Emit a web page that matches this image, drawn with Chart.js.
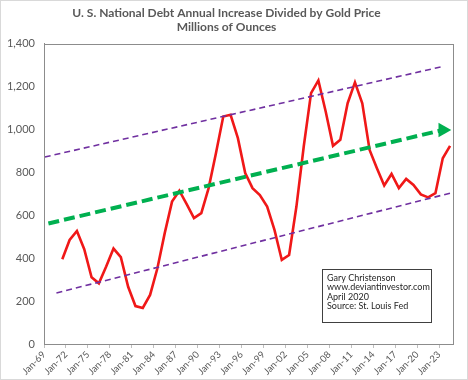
<!DOCTYPE html>
<html>
<head>
<meta charset="utf-8">
<script src="https://cdn.jsdelivr.net/npm/chart.js@4.4.0/dist/chart.umd.min.js"></script>
<style>
html,body{margin:0;padding:0;background:#fff;}
#wrap{width:468px;height:380px;position:relative;}
canvas{display:block;}
</style>
</head>
<body>
<div id="wrap"><canvas id="c" width="468" height="380"></canvas></div>
<script>
// ---- data ----
const years = [1971,1972,1973,1974,1975,1976,1977,1978,1979,1980,1981,1982,1983,1984,1985,1986,1987,1988,1989,1990,
  1991,1992,1993,1994,1995,1996,1997,1998,1999,2000,2001,2002,2003,2004,2005,2006,2007,2008,2009,2010,
  2011,2012,2013,2014,2015,2016,2017,2018,2019,2020,2021,2022,2023,2024];
const ounces = [395,485,527,442,311,283,361,445,405,267,177,168,229,353,517,664,715,652,587,610,
  727,890,1061,1069,960,797,727,695,641,532,392,415,641,921,1170,1229,1084,924,952,1123,
  1220,1123,905,820,739,793,727,770,742,698,684,703,866,924];
const upperChannel = [{x:1969.1,y:872},{x:2023.2,y:1292}];
const lowerChannel = [{x:1970.7,y:238},{x:2024.8,y:706}];
const trendArrow = [{x:1969.6,y:562},{x:2023.5,y:998}];
const xTickYears = [1969,1972,1975,1978,1981,1984,1987,1990,1993,1996,1999,2002,2005,2008,2011,2014,2017,2020,2023];
const yTicks = [0,200,400,600,800,1000,1200,1400];
const titleLines = ['U. S. National Debt Annual Increase Divided by Gold Price','Millions of Ounces'];
const noteLines = ['Gary Christenson','www.deviantinvestor.com','April 2020','Source: St. Louis Fed'];

const FONT = 'Lato, "Open Sans", sans-serif';
const debtPoints = years.map((yr,i)=>({x:yr+0.5,y:ounces[i]}));

const framePlugin = {
  id:'frame',
  afterDraw(chart){
    const {ctx, chartArea:a} = chart;
    ctx.save();
    // plot border
    ctx.strokeStyle = '#8c8c8c';
    ctx.lineWidth = 1;
    ctx.strokeRect(Math.round(a.left)+0.5, Math.round(a.top)+0.5, Math.round(a.right-a.left), Math.round(a.bottom-a.top));
    // outer border
    ctx.strokeStyle = '#d9d9d9';
    ctx.strokeRect(0.5,0.5,chart.width-1,chart.height-1);
    // note box
    const bx = Math.round(a.left) + 278, by = Math.round(a.top) + 225, bw = 109, bh = 53;
    ctx.fillStyle = '#fff';
    ctx.fillRect(bx,by,bw,bh);
    ctx.strokeStyle = '#404040';
    ctx.strokeRect(bx+0.5,by+0.5,bw,bh);
    ctx.fillStyle = '#262626';
    ctx.font = '9px ' + FONT;
    ctx.textBaseline = 'middle';
    ctx.textAlign = 'left';
    noteLines.forEach((t,i)=>ctx.fillText(t, bx+5, by+9 + i*9.3));
    ctx.restore();
  }
};

new Chart(document.getElementById('c'), {
  type:'line',
  data:{
    datasets:[
      {label:'Upper', data:upperChannel, borderColor:'#7030a0', borderWidth:1.6, borderDash:[6,4], pointRadius:0, fill:false},
      {label:'Lower', data:lowerChannel, borderColor:'#7030a0', borderWidth:1.6, borderDash:[6,4], pointRadius:0, fill:false},
      {label:'Trend', data:trendArrow, borderColor:'#00b050', backgroundColor:'#00b050', borderWidth:4, borderDash:[11,5],
        pointRadius:[0,8.5], pointStyle:'triangle', rotation:90, pointBorderWidth:0, pointHoverRadius:0, fill:false},
      {label:'Debt / Gold', data:debtPoints, borderColor:'#f01818', borderWidth:2.6, pointRadius:0, tension:0, fill:false}
    ]
  },
  options:{
    responsive:false,
    animation:false,
    events:[],
    layout:{padding:{left:0,right:15,top:0,bottom:0}},
    plugins:{
      legend:{display:false},
      tooltip:{enabled:false},
      title:{display:true, text:titleLines, color:'#595959',
        font:{family:FONT, size:12, weight:'bold', lineHeight:1.2},
        padding:{top:6,bottom:9}}
    },
    scales:{
      x:{type:'linear', min:1969, max:2024.9,
        afterBuildTicks(s){ s.ticks = xTickYears.map(v=>({value:v})); },
        afterFit(s){ s.height = 36; },
        ticks:{autoSkip:false, minRotation:45, maxRotation:45, color:'#595959', padding:1,
          font:{family:FONT, size:9.5},
          callback:(v)=>'Jan-' + String(v % 100).padStart(2,'0')},
        grid:{drawOnChartArea:false, drawTicks:true, tickLength:4, color:'#bfbfbf'},
        border:{display:true, color:'#8c8c8c'}
      },
      y:{min:0, max:1400,
        afterBuildTicks(s){ s.ticks = yTicks.map(v=>({value:v})); },
        afterFit(s){ s.width = 44; },
        ticks:{color:'#595959', padding:9, font:{family:FONT, size:11},
          callback:(v)=>v.toLocaleString('en-US')},
        grid:{display:false, drawTicks:false},
        border:{display:true, color:'#8c8c8c'}
      }
    }
  },
  plugins:[framePlugin]
});
</script>
</body>
</html>
